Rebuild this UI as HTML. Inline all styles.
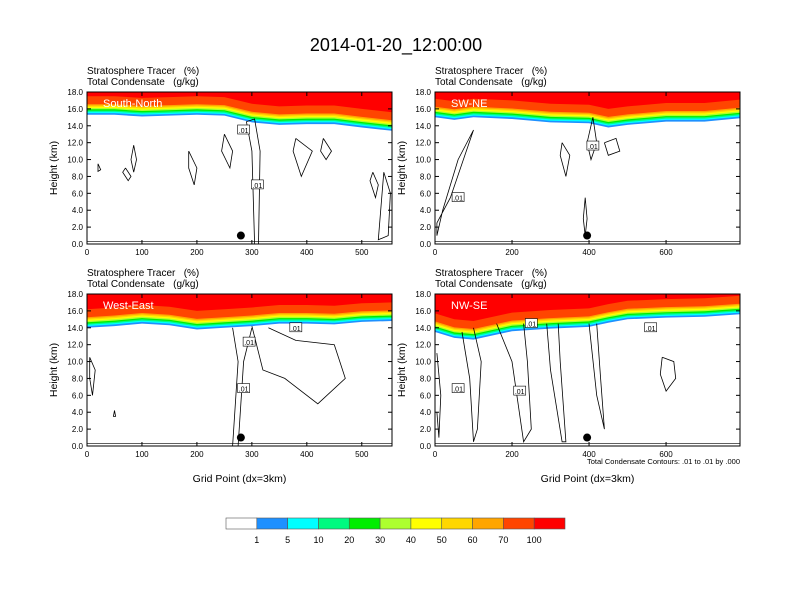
<!DOCTYPE html>
<html><head><meta charset="utf-8">
<style>
html,body{margin:0;padding:0;background:#fff;}
svg{display:block;font-family:"Liberation Sans",Helvetica,Arial,sans-serif;}
text{white-space:pre;}
</style></head>
<body>
<svg id="chart" width="792" height="612" viewBox="0 0 792 612" xmlns="http://www.w3.org/2000/svg" xml:space="preserve">
<text x="396" y="51" font-size="18" text-anchor="middle">2014-01-20_12:00:00</text>
<g id="panels"></g>
<g id="colorbar"></g>
</svg>
<script>
// ---- data ----
const levelLabels = ["1","5","10","20","30","40","50","60","70","100"];
const levelColors = ["#ffffff","#1e90ff","#00ffff","#00fa80","#00ee00","#adff2f","#ffff00","#ffd700","#ffa500","#ff4500","#ff0000"];
const layerOffsetsKm = [0,0.2,0.35,0.5,0.65,0.8,0.95,1.1,1.25,2.2];
const panelNames = ["South-North","SW-NE","West-East","NW-SE"];
const panelXMax = [555,792,555,792];
const panelXTicks = [[0,100,200,300,400,500],[0,200,400,600],[0,100,200,300,400,500],[0,200,400,600]];
const yTicks = [0,2,4,6,8,10,12,14,16,18];
const sampleX0 = [0,50,100,150,200,250,300,350,400,450,500,555];
const sampleX1 = [0,50,100,200,300,400,450,500,600,700,792];
const baseTL = [15.3,15.3,15.1,15.2,15.3,15.2,14.4,14.1,14.2,14.2,13.8,13.4];
const baseTR = [15.0,14.7,15.0,14.8,14.4,14.3,13.8,14.1,14.5,14.5,14.9];
const baseBL = [14.0,14.2,14.5,14.3,13.8,14.0,14.2,14.5,14.5,14.4,14.7,14.8];
const baseBR = [13.5,12.8,12.6,13.6,13.9,14.1,14.6,15.0,15.2,15.3,15.6];
const markerX = [280,395,280,395];
const contourLabelsX = [[285,310],[60,410],[295,285,380],[60,560,220,250]];
const contourLabelsY = [[13.5,7.0],[5.5,11.6],[12.3,6.8,14.0],[6.8,14.0,6.5,14.5]];
// contour loops (x, km)
const contoursTL = [
 [[20,9.5],[25,8.8],[20,8.6],[20,9.5]],
 [[70,9.0],[80,8.0],[75,7.5],[65,8.5],[70,9.0]],
 [[85,11.7],[90,10.0],[85,8.5],[80,10.0],[85,11.7]],
 [[185,11.0],[200,9.0],[195,7.0],[185,9.0],[185,11.0]],
 [[250,13.0],[265,11.0],[260,9.0],[245,11.0],[250,13.0]],
 [[290,14.5],[300,11],[305,0],[312,0],[315,11.0],[305,14.8],[290,14.5]],
 [[380,12.5],[410,11.0],[390,8.0],[375,11.0],[380,12.5]],
 [[430,12.5],[445,11.0],[435,10.0],[425,11.0],[430,12.5]],
 [[520,8.5],[530,7.0],[525,5.5],[515,7.5],[520,8.5]],
 [[540,8.5],[552,6.0],[548,1.0],[530,0.5],[540,8.5]]];
const contoursTR = [
 [[5,2.5],[40,5.5],[100,13.5],[60,10],[20,4],[5,1.0],[5,2.5]],
 [[330,12.0],[350,10.5],[340,8.0],[325,10.5],[330,12.0]],
 [[410,15.0],[420,12.0],[405,10.0],[395,12.0],[410,15.0]],
 [[390,5.5],[395,3.0],[390,1.0],[385,3.0],[390,5.5]],
 [[440,12.0],[470,12.5],[480,11.0],[450,10.5],[440,12.0]]];
const contoursBL = [
 [[5,10.5],[15,9.0],[10,6.0],[5,8.0],[5,10.5]],
 [[265,14.0],[275,10],[265,0],[275,0],[285,10],[300,14.0]],
 [[300,14.2],[320,9.0],[360,8.0],[420,5.0],[470,8.0],[450,12.0],[380,12.5],[330,14.0]],
 [[50,4.2],[52,3.5],[48,3.5],[50,4.2]]];
const contoursBR = [
 [[5,11.0],[15,6.0],[10,1.0],[5,4.0]],
 [[70,13.5],[90,8.0],[100,0.5],[110,2.0],[120,10.0],[100,14.0]],
 [[160,14.5],[200,10.0],[230,0.5],[250,2.0],[240,10.0],[230,14.5]],
 [[290,14.5],[300,9.0],[330,0.5],[340,0.5],[325,10.0],[320,14.5]],
 [[400,14.5],[420,6.0],[440,2.0],[430,8.0],[420,14.5]],
 [[590,10.5],[620,10.0],[625,8.0],[600,6.5],[585,8.5],[590,10.5]]];

const panels = [
 {x:87,y:92,base:baseTL,sx:sampleX0,cont:contoursTL,xlabel:false},
 {x:435,y:92,base:baseTR,sx:sampleX1,cont:contoursTR,xlabel:false},
 {x:87,y:294,base:baseBL,sx:sampleX0,cont:contoursBL,xlabel:true},
 {x:435,y:294,base:baseBR,sx:sampleX1,cont:contoursBR,xlabel:true}];
const PW=305, PH=152;
const NS="http://www.w3.org/2000/svg";
function mk(tag,attrs,parent){const e=document.createElementNS(NS,tag);for(const k in attrs)e.setAttribute(k,attrs[k]);parent.appendChild(e);return e;}
const root=document.getElementById('panels');
panels.forEach((p,i)=>{
  const g=mk('g',{},root);
  
  
  const xs=v=>p.x+v/panelXMax[i]*PW;
  const ys=v=>p.y+PH-v/18*PH;
  const t1=mk('text',{x:p.x,y:p.y-18,'font-size':10},g);t1.textContent="Stratosphere Tracer   (%)";
  
  const t2=mk('text',{x:p.x,y:p.y-7,'font-size':10},g);t2.textContent="Total Condensate   (g/kg)";
  
  const cp='clip'+i;
  const cl=mk('clipPath',{id:cp},g);mk('rect',{x:p.x,y:p.y,width:PW,height:PH},cl);
  const fg=mk('g',{'clip-path':'url(#'+cp+')'},g);
  layerOffsetsKm.forEach((off,li)=>{
    let d='M'+xs(p.sx[0])+','+ys(18);
    p.sx.forEach((sx,k)=>{d+=' L'+xs(sx).toFixed(1)+','+ys(Math.min(18,p.base[k]+off)).toFixed(1);});
    d+=' L'+xs(p.sx[p.sx.length-1])+','+ys(18)+'Z';
    const b=mk('path',{d:d,fill:levelColors[li+1]},fg);
    
    
  });
  mk('rect',{x:p.x,y:ys(0.25),width:PW,height:PH-(ys(0.25)-p.y),fill:'#fff'},fg);
  mk('line',{x1:p.x,x2:p.x+PW,y1:ys(0.3),y2:ys(0.3),stroke:'#000','stroke-width':0.6},fg);
  p.cont.forEach(c=>{
    const pl=mk('polyline',{points:c.map(q=>xs(q[0]).toFixed(1)+','+ys(q[1]).toFixed(1)).join(' '),fill:'none',stroke:'#000','stroke-width':0.8},fg);
    
    
  });
  contourLabelsX[i].forEach((lx,k)=>{
    const X=xs(lx),Y=ys(contourLabelsY[i][k]);
    mk('rect',{x:X-6,y:Y-5,width:12,height:9,fill:'#fff',stroke:'#000','stroke-width':0.6},fg);
    const lt=mk('text',{x:X,y:Y+3,'font-size':7,'text-anchor':'middle'},fg);lt.textContent=".01";
    
  });
  const nm=mk('text',{x:p.x+16,y:p.y+15,'font-size':11,fill:'#fff'},g);nm.textContent=panelNames[i];
  
  const mc=mk('circle',{cx:xs(markerX[i]),cy:ys(1.0),r:4,fill:'#000'},g);
  
  mk('rect',{x:p.x,y:p.y,width:PW,height:PH,fill:'none',stroke:'#000','stroke-width':1},g);
  yTicks.forEach(v=>{
    const Y=ys(v);
    mk('line',{x1:p.x,x2:p.x+4,y1:Y,y2:Y,stroke:'#000'},g);
    mk('line',{x1:p.x+PW,x2:p.x+PW-4,y1:Y,y2:Y,stroke:'#000'},g);
    const tt=mk('text',{x:p.x-4,y:Y+3,'font-size':8,'text-anchor':'end'},g);tt.textContent=v.toFixed(1);
    
  });
  panelXTicks[i].forEach(v=>{
    const X=xs(v);
    mk('line',{x1:X,x2:X,y1:p.y+PH,y2:p.y+PH-4,stroke:'#000'},g);
    mk('line',{x1:X,x2:X,y1:p.y,y2:p.y+4,stroke:'#000'},g);
    const tt=mk('text',{x:X,y:p.y+PH+11,'font-size':8,'text-anchor':'middle'},g);tt.textContent=v;
    
  });
  const yt=mk('text',{x:0,y:0,'font-size':10.5,'text-anchor':'middle',transform:'translate('+(p.x-30)+','+(p.y+PH/2)+') rotate(-90)'},g);yt.textContent="Height (km)";
  
  if(p.xlabel){
    const xt=mk('text',{x:p.x+PW/2,y:p.y+PH+36,'font-size':10.5,'text-anchor':'middle'},g);xt.textContent="Grid Point (dx=3km)";
    
  }
});
const note=mk('text',{x:740,y:464,'font-size':7.5,'text-anchor':'end'},root);note.textContent="Total Condensate Contours: .01 to .01 by .000";

const cb=document.getElementById('colorbar');
const cbx=226,cby=518,cbw=339/11,cbh=11;
levelColors.forEach((c,k)=>{
  const r=mk('rect',{x:cbx+k*cbw,y:cby,width:cbw,height:cbh,fill:c,stroke:'#555','stroke-width':0.6},cb);
  
});
levelLabels.forEach((l,k)=>{
  const t=mk('text',{x:cbx+(k+1)*cbw,y:cby+25,'font-size':9,'text-anchor':'middle'},cb);t.textContent=l;
  
});
</script>
</body></html>
